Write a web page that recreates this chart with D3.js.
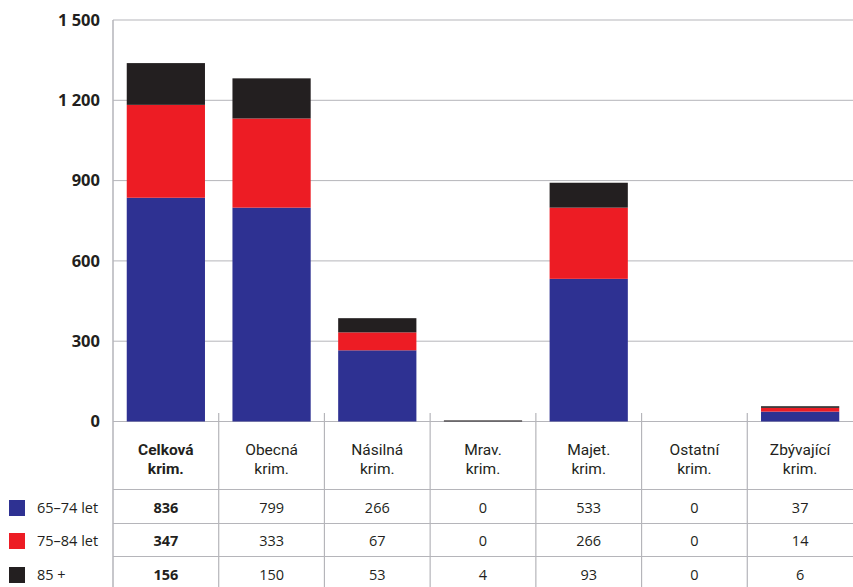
<!DOCTYPE html>
<html><head><meta charset="utf-8">
<script src="https://cdn.jsdelivr.net/npm/d3@7"></script>
<style>body{margin:0;background:#fff}svg{display:block}</style>
</head><body><svg id="c" width="853" height="587"></svg>
<script>
const categories = [["Celková","krim."],["Obecná","krim."],["Násilná","krim."],["Mrav.","krim."],["Majet.","krim."],["Ostatní","krim."],["Zbývající","krim."]];
const seriesNames = ["65–74 let","75–84 let","85 +"];
const age6574 = [836,799,266,0,533,0,37];
const age7584 = [347,333,67,0,266,0,14];
const age85 = [156,150,53,4,93,0,6];
const yTicks = [0,300,600,900,1200,1500];
const colors = ["#2e3192","#ed1c24","#231f20"];

(function(){
const svg = d3.select("#c");
const mLeft = 113, mRight = 853, mTop = 20, base = 421.5;
const txt = "#231f20", grid = "#b5b5ba";
const font = "'Open Sans', sans-serif";
const hfont = "Roboto, sans-serif";
const idx = d3.range(categories.length);
const x = d3.scaleBand().domain(idx).range([mLeft,mRight]).paddingInner(0.26).paddingOuter(0.13);
const xb = d3.scaleBand().domain(idx).range([mLeft,mRight]);
const y = d3.scaleLinear().domain([0,1500]).range([base,mTop]);

svg.append("g").selectAll("line").data(yTicks).join("line")
  .attr("x1",mLeft).attr("x2",mRight).attr("y1",d=>y(d)).attr("y2",d=>y(d))
  .attr("stroke",grid).attr("stroke-width",1);
const fmt = v => d3.format(",")(v).replace(/,/g," ");
svg.append("g").selectAll("text").data(yTicks).join("text")
  .attr("x",100).attr("y",d=>y(d)).attr("dy","0.35em").attr("text-anchor","end")
  .attr("font-family",font).attr("font-weight","bold").attr("font-size",16.5).attr("fill",txt)
  .text(fmt);

const rows = idx.map(i=>({i, a:age6574[i], b:age7584[i], c:age85[i]}));
const stack = d3.stack().keys(["a","b","c"])(rows);
svg.append("g").selectAll("g").data(stack).join("g").attr("fill",(d,k)=>colors[k])
  .selectAll("rect").data(d=>d).join("rect")
  .attr("x",d=>x(d.data.i)).attr("width",x.bandwidth())
  .attr("y",d=>y(d[1])).attr("height",d=>y(d[0])-y(d[1]));

const rowY = [421.5, 489.5, 523.5, 556.5];
const bottom = 587;
svg.append("line").attr("x1",mLeft).attr("x2",mLeft).attr("y1",mTop).attr("y2",bottom).attr("stroke",grid).attr("stroke-width",1.5);
svg.append("g").selectAll("line").data(idx.slice(1)).join("line")
  .attr("x1",d=>xb(d)).attr("x2",d=>xb(d)).attr("y1",413).attr("y2",bottom)
  .attr("stroke",grid).attr("stroke-width",1.2);
svg.append("g").selectAll("line").data(rowY.slice(1)).join("line")
  .attr("x1",mLeft).attr("x2",mRight).attr("y1",d=>d).attr("y2",d=>d)
  .attr("stroke",grid).attr("stroke-width",1);

[0,1].forEach(line=>{
  svg.append("g").selectAll("text").data(idx).join("text")
    .attr("x",d=>xb(d)+xb.bandwidth()/2).attr("y",line===0?455:473.5)
    .attr("text-anchor","middle").attr("font-family",hfont).attr("font-size",15.5)
    .attr("fill",txt).attr("font-weight",d=>d===0?"bold":"normal")
    .text(d=>categories[d][line]);
});

const series = [age6574, age7584, age85];
const rowCenters = [508, 541, 575];
series.forEach((s,k)=>{
  svg.append("g").selectAll("text").data(idx).join("text")
    .attr("x",d=>xb(d)+xb.bandwidth()/2).attr("y",rowCenters[k]).attr("dy","0.35em")
    .attr("text-anchor","middle").attr("font-family",font).attr("font-size",14.5)
    .attr("fill",txt).attr("font-weight",d=>d===0?"bold":"normal")
    .text(d=>s[d]);
  svg.append("rect").attr("x",9).attr("y",rowCenters[k]-8).attr("width",16).attr("height",16).attr("fill",colors[k]);
  svg.append("text").attr("x",37).attr("y",rowCenters[k]).attr("dy","0.35em")
    .attr("font-family",font).attr("font-size",14.5).attr("fill",txt).text(seriesNames[k]);
});
})();
</script></body></html>
